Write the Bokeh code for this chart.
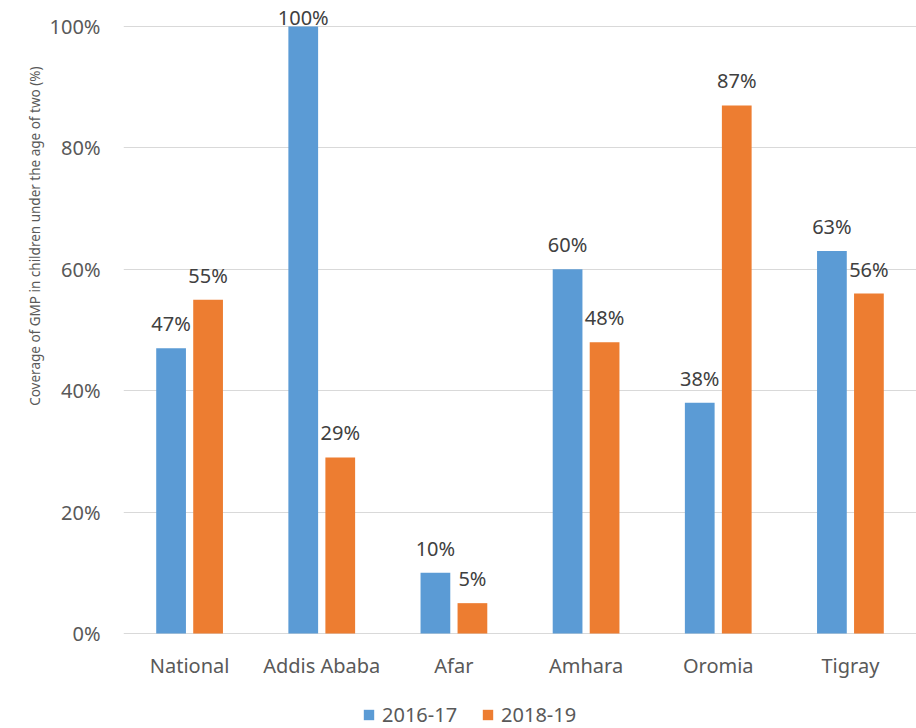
from bokeh.plotting import figure
from bokeh.models import ColumnDataSource, FactorRange, Range1d, FixedTicker, Legend, LegendItem, LabelSet, Title
from bokeh.transform import dodge
from bokeh.core.properties import value
from bokeh.embed import file_html
from bokeh.resources import INLINE

regions = ["National", "Addis Ababa", "Afar", "Amhara", "Oromia", "Tigray"]
series_names = ["2016-17", "2018-19"]
v2016 = [47, 100, 10, 60, 38, 63]
v2018 = [55, 29, 5, 48, 87, 56]
y_ticks = [0, 20, 40, 60, 80, 100]
y_title = "Coverage of GMP in children under the age of two (%)"

blue = "#5B9BD5"
orange = "#ED7D31"
FONT = "Noto Sans"
FS = "20px"

def offs(vals):
    # labels sit above bars; the full-height bar's label is tucked in under the top edge
    return [2 if v >= 100 else 17 for v in vals]

src = ColumnDataSource(dict(
    region=regions, a=v2016, b=v2018, zero=[0] * len(regions),
    la=[f"{v}%" for v in v2016], lb=[f"{v}%" for v in v2018],
    oa=offs(v2016), ob=offs(v2018),
))

# frame runs to the bottom of the page so the category labels and legend can sit below the 0 line
p = figure(x_range=FactorRange(*regions), y_range=Range1d(-15.65, 102.97),
           frame_width=793, frame_height=720, output_backend="svg", toolbar_location=None,
           x_axis_location=None,
           min_border_left=123, min_border_right=0, min_border_top=8, min_border_bottom=0)

r1 = p.vbar(x=dodge("region", -0.14, range=p.x_range), top="a", width=0.225, source=src,
            fill_color=blue, line_color=None)
r2 = p.vbar(x=dodge("region", 0.14, range=p.x_range), top="b", width=0.225, source=src,
            fill_color=orange, line_color=None)

for xo, col, ys, oc in [(-0.14, "la", "a", "oa"), (0.14, "lb", "b", "ob")]:
    labels = LabelSet(x=dodge("region", xo, range=p.x_range), y=ys, text=col, source=src,
                      text_align="center", text_baseline="alphabetic", y_offset=oc,
                      text_font=value(FONT), text_font_size=FS, text_color="#404040")
    p.add_layout(labels)

# category labels under the 0 line
cats = LabelSet(x="region", y="zero", text="region", source=src,
                text_align="center", text_baseline="middle", y_offset=-32,
                text_font=value(FONT), text_font_size=FS, text_color="#595959")
p.add_layout(cats)

p.outline_line_color = None
p.xgrid.grid_line_color = None
p.ygrid.grid_line_color = "#D9D9D9"
p.ygrid.grid_line_width = 1
p.yaxis.ticker = FixedTicker(ticks=y_ticks)
p.yaxis.major_label_overrides = {t: f"{t}%" for t in y_ticks}
p.yaxis.axis_line_color = None
p.yaxis.major_tick_line_color = None
p.yaxis.minor_tick_line_color = None
p.yaxis.major_label_text_font = FONT
p.yaxis.major_label_text_font_size = FS
p.yaxis.major_label_text_color = "#595959"
p.yaxis.major_label_standoff = 17

title = Title(text=y_title, align="right", offset=58, standoff=6,
              text_font=FONT, text_font_size="13.5px", text_font_style="normal",
              text_color="#595959")
p.add_layout(title, "left")

legend = Legend(items=[LegendItem(label=series_names[0], renderers=[r1]),
                       LegendItem(label=series_names[1], renderers=[r2])],
                orientation="horizontal", location=(239, 0),
                label_text_font=FONT, label_text_font_size=FS, label_text_color="#595959",
                glyph_width=13, glyph_height=13, spacing=24, label_standoff=7,
                border_line_color=None, background_fill_alpha=0, margin=0, padding=0)
p.add_layout(legend, "center")

open("out.html", "w").write(file_html(p, INLINE))
